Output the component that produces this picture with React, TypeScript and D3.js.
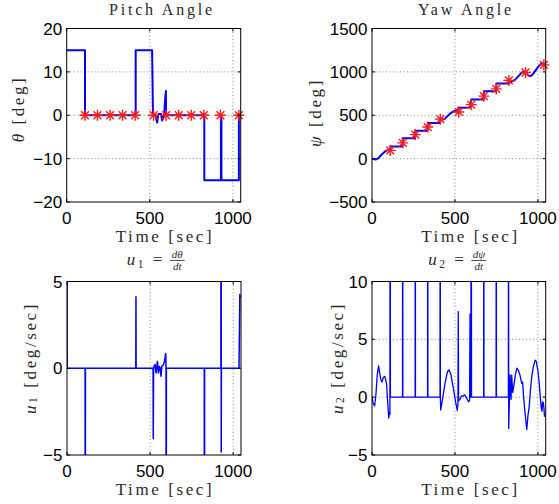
import React from "react";
import * as d3 from "d3";

// ---------- data ----------
const timeTicks = [0, 500, 1000];
const pitchTicks = [-20, -10, 0, 10, 20];
const yawTicks = [-500, 0, 500, 1000, 1500];
const u1Ticks = [-5, 0, 5];
const u2Ticks = [-5, 0, 5, 10];

const waypointTimes = [110, 185, 261, 336, 412, 523, 598, 674, 749, 825, 925, 1036];
const waypointPitch = [0, 0, 0, 0, 0, 0, 0, 0, 0, 0, 0, 0];
const waypointYaw = [95, 182, 277, 364, 455, 538, 622, 720, 804, 902, 993, 1081];

const pitchSeries: [number, number][] = [
  [0, 15], [110, 15], [110, 0], [415, 0], [415, 15], [514, 15], [519, 0.2], [533, 0.2],
  [544, -1.7], [552, 0.3], [568, 0.3], [574, -1.2], [578, -0.9], [586, 0.2], [594, 4.5],
  [597, 5.6], [598, 0], [828, 0], [828, -15], [928, -15], [928, 0], [931, 0], [931, -15],
  [1036, -15], [1036, 0], [1041, 0],
];

const yawSeries: [number, number][] = [
  [0, 0], [10, -5], [22, -10], [32, -3], [40, 8], [50, 30], [60, 50], [75, 75], [90, 96],
  [100, 97], [110, 93], [111, 140], [184, 140], [185, 236], [260, 236], [261, 322],
  [335, 322], [336, 410], [411, 410], [412, 455], [420, 450], [435, 455], [455, 490],
  [475, 525], [495, 548], [510, 551], [518, 546], [521, 587], [590, 589], [593, 602],
  [598, 683], [673, 683], [674, 778], [748, 778], [750, 866], [824, 866], [826, 872],
  [840, 888], [860, 905], [880, 945], [900, 985], [912, 1002], [925, 995], [935, 970],
  [950, 952], [962, 958], [980, 1000], [1000, 1055], [1020, 1095], [1032, 1100], [1041, 1092],
];

const u1Series: [number, number][] = [
  [0, 40], [1, 0], [109, 0], [110, -40], [111, 0], [414, 0], [415, 4.12], [416, 0],
  [518, 0], [519, -4.07], [521, 0], [524, 0.12], [530, 0.21], [536, -0.27], [544, 0.4],
  [550, -0.27], [556, 0.1], [560, 0.02], [566, -0.46], [570, 0.1], [580, 0.2], [587, 0.4],
  [594, 0.85], [596, 0], [597, -40], [598, 0], [826, 0], [827, -40], [828, 0], [926, 0],
  [927, 40], [928, -4.83], [929, 0], [1035, 0], [1040, 4.25], [1043, 4.1],
];

const u2Series: [number, number][] = [
  [0, 0], [6, -0.5], [16, -0.75], [24, 0.3], [32, 2.0], [40, 2.7], [45, 2.2], [52, 1.6],
  [60, 1.3], [68, 1.7], [77, 1.8], [83, 1.5], [88, 1.1], [94, -0.3], [101, -1.8], [105, -1.3],
  [108, -1.5], [110, 40], [111, 0], [184, 0], [185, 40], [186, 0], [260, 0], [261, 40],
  [262, 0], [335, 0], [336, 40], [337, 0], [410, 0], [411, 40], [412, 0], [414, -1.1],
  [425, -0.2], [440, 1.2], [455, 2.2], [464, 2.36], [475, 2.0], [490, 0.8], [505, -0.5],
  [514, -1.15], [518, -0.6], [520, 7.4], [522, -0.3], [530, -0.2], [540, 0.1], [550, 0.1],
  [558, 0.2], [565, 0.05], [575, -0.2], [582, -0.4], [588, -0.3], [591, 7.2], [593, 0.2],
  [596, 0], [598, 40], [600, 0], [673, 0], [674, 40], [675, 0], [748, 0], [749, 40],
  [750, 0], [822, 0], [823, 40], [824, -2.7], [832, 1.93], [838, -0.2], [842, 1.9],
  [848, 0.4], [857, 1.2], [865, 2.0], [873, 2.5], [883, 2.3], [892, 1.9], [898, 1.5],
  [903, 1.2], [908, 1.3], [913, 0.2], [920, -1.0], [927, -2.0], [933, -2.8], [940, -1.6],
  [947, -0.9], [955, 0.6], [963, 1.8], [972, 2.6], [983, 3.2], [990, 3.1], [1000, 2.3],
  [1008, 1.2], [1014, 0.05], [1020, -0.9], [1025, -1.2], [1028, -0.4], [1033, -0.5],
  [1036, -0.9], [1040, -1.7],
];

// ---------- drawing ----------
const SANS = "'Liberation Sans', Arial, Helvetica, sans-serif";
const SERIF = "'Liberation Serif', 'DejaVu Serif', serif";
const X_MAX = 1047;
const INK = "#2a2a2a";

const fmt = (v: number) => (v < 0 ? "\u2212" + Math.abs(v) : String(v));

type PanelProps = {
  id: string;
  left: number;
  top: number;
  width: number;
  height: number;
  yDomain: [number, number];
  yTicks: number[];
  series: [number, number][];
  lineWidth: number;
  markers?: { t: number[]; v: number[] };
};

function Panel(p: PanelProps) {
  const x = d3.scaleLinear().domain([0, X_MAX]).range([p.left, p.left + p.width]);
  const y = d3.scaleLinear().domain(p.yDomain).range([p.top + p.height, p.top]);
  const line = d3.line<[number, number]>().x((d) => x(d[0])).y((d) => y(d[1]));
  const right = p.left + p.width;
  const bottom = p.top + p.height;
  const tl = 3;
  const grid = "#8a8a8a";
  const star = "M-5.5,0H5.5M0,-5.5V5.5M-3.9,-3.9L3.9,3.9M-3.9,3.9L3.9,-3.9";
  return (
    <g>
      <defs>
        <clipPath id={p.id}>
          <rect x={p.left} y={p.top} width={p.width} height={p.height} />
        </clipPath>
      </defs>
      {timeTicks
        .filter((t) => t > 0)
        .map((t) => (
          <line key={"gx" + t} x1={x(t)} x2={x(t)} y1={p.top} y2={bottom}
            stroke={grid} strokeWidth={1} strokeDasharray="1,2.5" />
        ))}
      {p.yTicks
        .filter((v) => v > p.yDomain[0] && v < p.yDomain[1])
        .map((v) => (
          <line key={"gy" + v} x1={p.left} x2={right} y1={y(v)} y2={y(v)}
            stroke={grid} strokeWidth={1} strokeDasharray="1,2.5" />
        ))}
      <path d={line(p.series) || ""} fill="none" stroke="#0000ff" strokeWidth={p.lineWidth}
        strokeLinejoin="round" clipPath={`url(#${p.id})`} />
      {p.markers &&
        p.markers.t.map((t, i) => (
          <path key={"m" + i} d={star} transform={`translate(${x(t)},${y(p.markers!.v[i])})`}
            stroke="#ff1a1a" strokeWidth={1.4} fill="none" />
        ))}
      <rect x={p.left} y={p.top} width={p.width} height={p.height} fill="none" stroke="#000" strokeWidth={1} />
      {timeTicks.map((t) => (
        <g key={"tx" + t}>
          <line x1={x(t)} x2={x(t)} y1={bottom} y2={bottom - tl} stroke="#000" />
          <line x1={x(t)} x2={x(t)} y1={p.top} y2={p.top + tl} stroke="#000" />
          <text x={x(t)} y={bottom + 22} textAnchor="middle" fontFamily={SANS} fontSize={17}>
            {fmt(t)}
          </text>
        </g>
      ))}
      {p.yTicks.map((v) => (
        <g key={"ty" + v}>
          <line x1={p.left} x2={p.left + tl} y1={y(v)} y2={y(v)} stroke="#000" />
          <line x1={right} x2={right - tl} y1={y(v)} y2={y(v)} stroke="#000" />
          <text x={p.left - 4.5} y={y(v) + 6} textAnchor="end" fontFamily={SANS} fontSize={17}>
            {fmt(v)}
          </text>
        </g>
      ))}
    </g>
  );
}

function TimeLabel({ cx, y }: { cx: number; y: number }) {
  return (
    <text x={cx} y={y} textAnchor="middle" fontFamily={SERIF} fontSize={17} letterSpacing={2.6} fill={INK}>
      Time [sec]
    </text>
  );
}

function FracTitle({ x0, sub, sym }: { x0: number; sub: string; sym: string }) {
  const fx = x0 + 50.5;
  return (
    <g fontFamily={SERIF} fill={INK}>
      <text x={x0} y={265} fontSize={17} letterSpacing={2.5}>
        <tspan fontStyle="italic">u</tspan>
        <tspan fontSize={11.5} dy={3}>{sub}</tspan>
        <tspan dy={-3}> =</tspan>
      </text>
      <text x={fx} y={257.5} textAnchor="middle" fontSize={11} fontStyle="italic">d{sym}</text>
      <line x1={fx - 7.5} x2={fx + 7.5} y1={260.5} y2={260.5} stroke={INK} strokeWidth={0.8} />
      <text x={fx} y={269.5} textAnchor="middle" fontSize={11} fontStyle="italic">dt</text>
    </g>
  );
}

function YLabel({ cx, cy, sym, sub, unit }: { cx: number; cy: number; sym: string; sub?: string; unit: string }) {
  return (
    <text transform={`translate(${cx},${cy}) rotate(-90)`} textAnchor="middle" dominantBaseline="central"
      fontFamily={SERIF} fontSize={17} letterSpacing={2.6} fill={INK}>
      <tspan fontStyle="italic">{sym}</tspan>
      {sub ? <tspan fontSize={11.5} dy={3}>{sub}</tspan> : null}
      <tspan dy={sub ? -3 : 0}> [{unit}]</tspan>
    </text>
  );
}

export default function App() {
  return (
    <svg width={559} height={504} style={{ position: "absolute", left: 0, top: 0, background: "#fff" }}>
      <rect width={559} height={504} fill="#fff" />
      <Panel id="c1" left={66.7} top={28.5} width={174} height={173.5} yDomain={[-20, 20]} yTicks={pitchTicks}
        series={pitchSeries} lineWidth={2} markers={{ t: waypointTimes, v: waypointPitch }} />
      <text x={162} y={14.5} textAnchor="middle" fontFamily={SERIF} fontSize={16} letterSpacing={2.8} fill={INK}>Pitch Angle</text>
      <TimeLabel cx={165} y={241.5} />
      <YLabel cx={17.5} cy={109} sym="θ" unit="deg" />

      <Panel id="c2" left={372} top={28.5} width={173.7} height={173.5} yDomain={[-500, 1500]} yTicks={yawTicks}
        series={yawSeries} lineWidth={2} markers={{ t: waypointTimes, v: waypointYaw }} />
      <text x={466} y={14.5} textAnchor="middle" fontFamily={SERIF} fontSize={16} letterSpacing={2.8} fill={INK}>Yaw Angle</text>
      <TimeLabel cx={470.5} y={241.5} />
      <YLabel cx={315} cy={112.5} sym="ψ" unit="deg" />

      <Panel id="c3" left={67} top={281.5} width={174} height={173.5} yDomain={[-5, 5]} yTicks={u1Ticks}
        series={u1Series} lineWidth={1.5} />
      <FracTitle x0={126.7} sub="1" sym="θ" />
      <TimeLabel cx={165} y={495} />
      <YLabel cx={30} cy={358} sym="u" sub="1" unit="deg/sec" />

      <Panel id="c4" left={372} top={281.5} width={173.7} height={173.5} yDomain={[-5, 10]} yTicks={u2Ticks}
        series={u2Series} lineWidth={1.3} />
      <FracTitle x0={428.3} sub="2" sym="ψ" />
      <TimeLabel cx={470.5} y={495} />
      <YLabel cx={336.5} cy={358} sym="u" sub="2" unit="deg/sec" />
    </svg>
  );
}
